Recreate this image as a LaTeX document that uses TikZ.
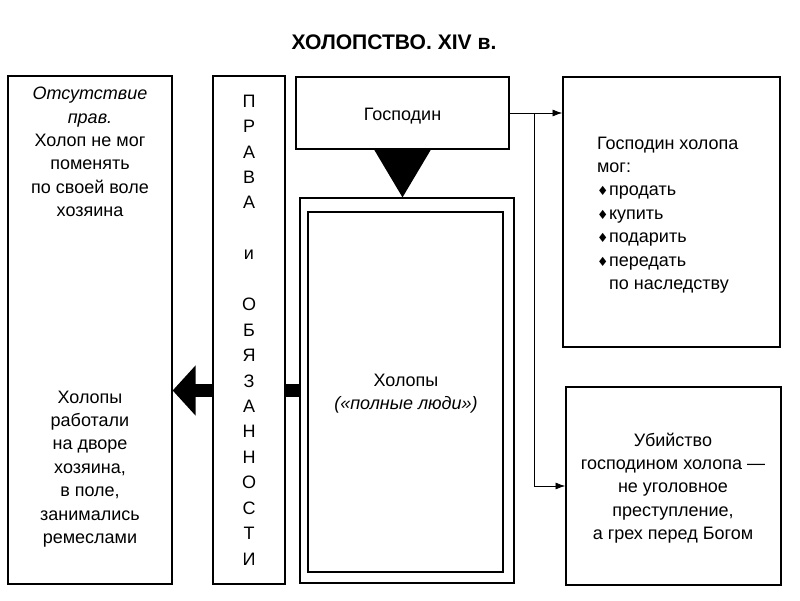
\documentclass[tikz,border=0pt]{standalone}
\usepackage{fontspec}
\setmainfont{Liberation Sans}
\newfontfamily\symfont{DejaVu Sans}
\usetikzlibrary{arrows.meta}

\newcommand{\dmd}{\makebox[0.3cm][l]{\symfont\small ♦}}

\begin{document}
\begin{tikzpicture}[
    box/.style={draw, line width=0.9pt, inner sep=0pt},
    txt/.style={align=center, font=\fontsize{12.8}{16.6}\selectfont},
    link/.style={-{Latex[length=7pt,width=5pt]}, line width=0.6pt},
    bigarrow/.style={-{Triangle[length=0.575cm,width=1.225cm]}, line width=0.325cm}
]
\useasboundingbox (0,0) rectangle (20,15);
\node[font=\fontsize{15}{16}\selectfont\bfseries] (title) at (9.85,13.95) {ХОЛОПСТВО. XIV в.};

% boxes
\node[box, minimum width=4.1cm, minimum height=12.7cm] (duty) at (2.25,6.75) {};
\node[box, minimum width=5.35cm, minimum height=9.625cm] (holout) at (10.175,5.2375) {};
\node[box, minimum width=4.875cm, minimum height=9cm] (hol) at (10.14,5.2) {};
\node[box, minimum width=5.325cm, minimum height=1.8cm] (gos) at (10.0625,12.175) {};
\node[box, minimum width=5.425cm, minimum height=6.75cm] (power) at (16.7875,9.7) {};
\node[box, minimum width=5.375cm, minimum height=4.95cm] (murder) at (16.8375,2.85) {};

% thick arrow under the rights column
\draw[bigarrow] (holout.west) -- (holout.west -| duty.east);
\node[box, fill=white, minimum width=1.8cm, minimum height=12.7cm] (rights) at (6.225,6.75) {};

% texts
\node[txt] (lack) at (2.25,11.2) {\textit{Отсутствие}\\\textit{прав.}\\Холоп не мог\\поменять\\по своей воле\\хозяина};
\node[txt] (work) at (2.25,3.275) {Холопы\\работали\\на дворе\\хозяина,\\в поле,\\занимались\\ремеслами};
\node[txt, font=\fontsize{12.8}{18.1}\selectfont] (rtext) at (rights) {П\\Р\\А\\В\\А\\[18.1pt]и\\[18.1pt]О\\Б\\Я\\З\\А\\Н\\Н\\О\\С\\Т\\И};
\node[txt] at ([yshift=-0.08cm]gos.center) {Господин};
\node[txt] (holtext) at (10.15,5.16) {Холопы\\\textit{(«полные люди»)}};
\node[txt, align=left, anchor=west, inner sep=0pt] (could) at (14.92,9.625) {Господин холопа\\мог:\\\dmd продать\\\dmd купить\\\dmd подарить\\\dmd передать\\\hspace*{0.3cm}по наследству};
\node[txt] (sin) at (16.825,2.8) {Убийство\\господином холопа —\\не уголовное\\преступление,\\а грех перед Богом};

% connectors
\fill ([xshift=-0.71cm]gos.south) -- ([xshift=0.71cm]gos.south) -- (gos.south |- holout.north) -- cycle;
\draw[link] (gos.east) -- (gos.east -| power.west);
\coordinate (branch) at (13.35,12.175);
\draw[link] (branch) |- (murder.west);
\end{tikzpicture}
\end{document}
